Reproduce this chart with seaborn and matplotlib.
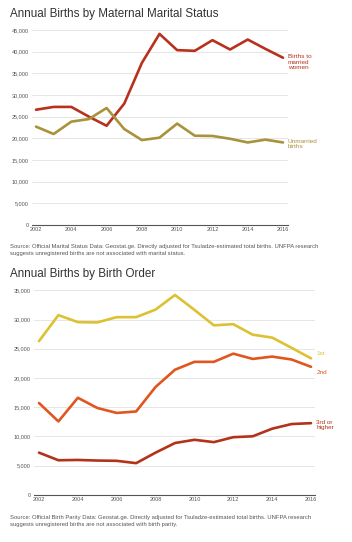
import pandas as pd
import matplotlib.pyplot as plt
import seaborn as sns

sns.set_style("white")
plt.rcParams['font.family'] = ['Liberation Sans', 'DejaVu Sans']

years = list(range(2002, 2017))

# marital status chart
married = [26600, 27250, 27250, 25000, 22900, 28000, 37400, 44100,
           40350, 40200, 42650, 40500, 42800, 40650, 38600]
unmarried = [22700, 21000, 23850, 24450, 27000, 22150, 19600, 20150,
             23400, 20600, 20550, 19900, 19050, 19700, 19050]

# birth order chart
first = [26300, 30750, 29550, 29500, 30400, 30400, 31700, 34200,
         31650, 29000, 29200, 27400, 26900, 25150, 23350]
second = [15700, 12550, 16600, 14850, 14000, 14250, 18450, 21400,
          22750, 22750, 24150, 23250, 23650, 23150, 21900]
third = [7200, 5900, 5950, 5850, 5800, 5400, 7200, 8850,
         9400, 9000, 9850, 10000, 11300, 12100, 12250]

marital_names = ['Births to\nmarried\nwomen', 'Unmarried\nbirths']
order_names = ['1st', '2nd', '3rd or\nhigher']

marital_colors = ['#b8311d', '#a8923a']
order_colors = ['#dcc232', '#e0561f', '#b3321a']

df_m = pd.DataFrame({'year': years * 2,
                     'births': married + unmarried,
                     'group': [marital_names[0]] * 15 + [marital_names[1]] * 15})
df_o = pd.DataFrame({'year': years * 3,
                     'births': first + second + third,
                     'group': [order_names[0]] * 15 + [order_names[1]] * 15 + [order_names[2]] * 15})

W, H = 352, 542
fig = plt.figure(figsize=(W / 100, H / 100), dpi=100)

ax1 = fig.add_axes([32 / W, 1 - 225 / H, 256 / W, 195 / H])
ax2 = fig.add_axes([34 / W, 1 - 494.7 / H, 281 / W, 204.4 / H])


def style_axis(ax, xlim, ylim, step):
    ax.set_xlim(*xlim)
    ax.set_ylim(0, ylim)
    ax.set_xticks(range(2002, 2017, 2))
    ax.set_yticks(range(0, ylim + 1, step))
    ax.set_yticklabels([f'{v:,}' for v in range(0, ylim + 1, step)])
    ax.grid(axis='y', color='#e6e6e6', lw=0.7)
    ax.set_axisbelow(True)
    for s in ['top', 'right', 'left']:
        ax.spines[s].set_visible(False)
    ax.spines['bottom'].set_color('#555555')
    ax.spines['bottom'].set_linewidth(0.8)
    ax.tick_params(axis='both', length=0, labelsize=4.0, colors='#555555')
    ax.tick_params(axis='y', pad=2.2)
    ax.tick_params(axis='x', pad=1.6)
    ax.set_xlabel('')
    ax.set_ylabel('')


sns.lineplot(data=df_m, x='year', y='births', hue='group', palette=marital_colors,
             lw=1.9, ax=ax1, legend=False)
sns.lineplot(data=df_o, x='year', y='births', hue='group', palette=order_colors,
             lw=1.9, ax=ax2, legend=False)

style_axis(ax1, (2001.773, 2016.283), 45000, 5000)
style_axis(ax2, (2001.743, 2016.206), 35000, 5000)

# end labels
for name, vals, col in zip(marital_names, [married, unmarried], marital_colors):
    ax1.annotate(name, xy=(2016, vals[-1]), xytext=(3.5, 2.6), textcoords='offset points',
                 ha='left', va='top', fontsize=4.6, color=col, linespacing=1.15)
for name, vals, col, dy in zip(order_names, [first, second, third], order_colors, [3.2, -4.3, 2.6]):
    ax2.annotate(name, xy=(2016, vals[-1]), xytext=(3.8, dy), textcoords='offset points',
                 ha='left', va='top' if '\n' in name else 'center', fontsize=4.6,
                 color=col, linespacing=1.15)

# titles
fig.text(10 / W, 1 - 17.3 / H, 'Annual Births by Maternal Marital Status',
         fontsize=8.4, color='#333333', va='baseline')
fig.text(10 / W, 1 - 276.5 / H, 'Annual Births by Birth Order',
         fontsize=8.4, color='#333333', va='baseline')

# sources
src_top = ['Source: Official Marital Status Data: Geostat.ge. Directly adjusted for Tsuladze-estimated total births. UNFPA research',
           'suggests unregistered births are not associated with marital status.']
src_bot = ['Source: Official Birth Parity Data: Geostat.ge. Directly adjusted for Tsuladze-estimated total births. UNFPA research',
           'suggests unregistered births are not associated with birth parity.']
for line, y in zip(src_top, [246.7, 253.4]):
    fig.text(10 / W, 1 - y / H, line, fontsize=4.2, color='#555555', va='center')
for line, y in zip(src_bot, [517.3, 524.7]):
    fig.text(10 / W, 1 - y / H, line, fontsize=4.2, color='#555555', va='center')

fig.savefig('out.png', dpi=100)
